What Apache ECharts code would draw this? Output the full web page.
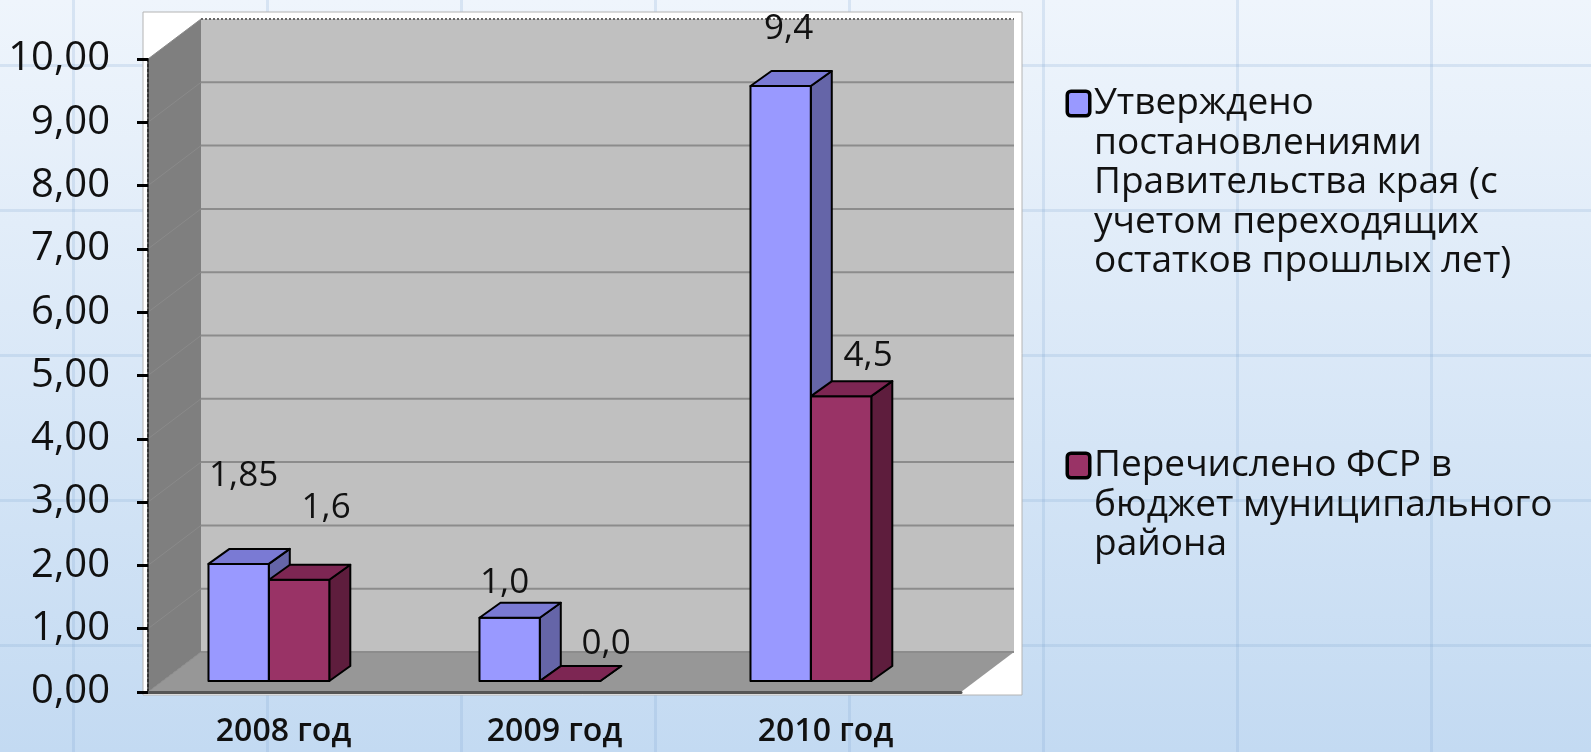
<!DOCTYPE html>
<html>
<head>
<meta charset="utf-8">
<title>Финансирование</title>
<script src="https://cdn.jsdelivr.net/npm/echarts@6/dist/echarts.min.js"></script>
<style>
  html, body { margin: 0; padding: 0; }
  body {
    width: 1591px;
    height: 752px;
    overflow: hidden;
    background-color: #d9e8f8;
    background-image:
      linear-gradient(to right, rgba(120, 160, 205, 0.2) 3px, transparent 3px),
      linear-gradient(to bottom, rgba(120, 160, 205, 0.2) 3px, transparent 3px),
      linear-gradient(to bottom, #eff5fc, #c3daf2);
    background-size: 194px 100%, 100% 145px, 100% 100%;
    background-position: 72px 0, 0 64px, 0 0;
  }
  #chart { width: 1591px; height: 752px; }
</style>
</head>
<body>
<div id="chart"></div>
<script>
// данные диаграммы
const categories = ['2008 год', '2009 год', '2010 год'];
const seriesNames = [
  'Утверждено\nпостановлениями\nПравительства края (с\nучетом переходящих\nостатков прошлых лет)',
  'Перечислено ФСР в\nбюджет муниципального\nрайона',
];
const approved = [1.85, 1.0, 9.4];
const transferred = [1.6, 0.0, 4.5];
const yTicks = [0, 1, 2, 3, 4, 5, 6, 7, 8, 9, 10];

// псевдо-3D: глубина стен и столбиков
const WALL_DEPTH = [53, -40];
const BAR_DEPTH = [21, -15];
const BAR_LIFT = -11;

// сдвиг подписей от верхней грани (в оригинале подписи двигали вручную)
const approvedLabelNudge = [[5, -88], [-5, -35], [8, -57]];
const transferredLabelNudge = [[27, -72], [36, -37], [27, -40]];

const FONT = 'Open Sans';

const fmtValue = (v) => {
  const s = Number.isInteger(Math.round(v * 100) / 10) ? v.toFixed(1) : v.toFixed(2);
  return s.replace('.', ',');
};

// стены, пол и линии сетки на задней стенке
const renderWalls = (params, api) => {
  const cs = params.coordSys;
  const [dx, dy] = WALL_DEPTH;
  const L = cs.x, T = cs.y, R = cs.x + cs.width, B = cs.y + cs.height;
  const children = [
    { type: 'rect', shape: { x: L - 5, y: T - 47, width: R - L + 66, height: B - T + 50 },
      style: { fill: '#ffffff', stroke: '#b4b4b4', lineWidth: 1 } },
    { type: 'polygon', shape: { points: [[L, T], [L + dx, T + dy], [L + dx, B + dy], [L, B]] },
      style: { fill: '#7f7f7f' } },
    { type: 'rect', shape: { x: L + dx, y: T + dy, width: R - L, height: B - T },
      style: { fill: '#c0c0c0' } },
    { type: 'polygon', shape: { points: [[L, B], [R, B], [R + dx, B + dy], [L + dx, B + dy]] },
      style: { fill: '#979797' } },
  ];
  yTicks.forEach((t, i) => {
    const y = api.coord([0, t])[1];
    const last = i === yTicks.length - 1;
    children.push({
      type: 'line',
      shape: { x1: L + dx, y1: y + dy, x2: R + dx, y2: y + dy },
      style: { stroke: last ? '#666' : '#8c8c8c', lineWidth: 2, lineDash: last ? [2, 2] : null },
    });
    children.push({
      type: 'line',
      shape: { x1: L, y1: y, x2: L + dx, y2: y + dy },
      style: { stroke: '#8a8a8a', lineWidth: 1 },
    });
  });
  return { type: 'group', children };
};

// объёмный столбик: перед, верх, бок + подпись
const makeBarRenderer = (slot, colors, nudges) => (params, api) => {
  const idx = api.value(0);
  const val = api.value(1);
  const top = api.coord([idx, val]);
  const base = api.coord([idx, 0]);
  const band = api.size([1, 0])[0];
  const w = band * 0.2225;
  const x0 = top[0] + band * slot;
  const x1 = x0 + w;
  const yt = top[1] + BAR_LIFT;
  const yb = base[1] + BAR_LIFT;
  const [dx, dy] = BAR_DEPTH;
  const nudge = nudges[params.dataIndex];
  const edge = { stroke: '#000', lineWidth: 2, lineJoin: 'round' };
  return {
    type: 'group',
    children: [
      { type: 'polygon', shape: { points: [[x1, yt], [x1 + dx, yt + dy], [x1 + dx, yb + dy], [x1, yb]] },
        style: Object.assign({ fill: colors[2] }, edge) },
      { type: 'rect', shape: { x: x0, y: yt, width: w, height: yb - yt },
        style: Object.assign({ fill: colors[0] }, edge) },
      { type: 'polygon', shape: { points: [[x0, yt], [x0 + dx, yt + dy], [x1 + dx, yt + dy], [x1, yt]] },
        style: Object.assign({ fill: colors[1] }, edge) },
      { type: 'text', x: (x0 + x1) / 2 + nudge[0], y: yt + nudge[1],
        style: { text: fmtValue(val), fontSize: 35, fontFamily: FONT, fill: '#111',
          align: 'center', verticalAlign: 'middle' } },
    ],
  };
};

const legendRich = {
  sq0: { width: 19, height: 21, backgroundColor: '#9999ff', borderColor: '#000', borderWidth: 3.5, borderRadius: 2 },
  sq1: { width: 19, height: 21, backgroundColor: '#993366', borderColor: '#000', borderWidth: 3.5, borderRadius: 2 },
  ind: { width: 19 },
  t: { fontSize: 37, fontFamily: FONT, color: '#111', lineHeight: 39.5, padding: [0, 0, 0, 6] },
};

const chart = echarts.init(document.getElementById('chart'));

const option = {
  animation: false,
  grid: { left: 148, top: 59, width: 813, height: 633 },
  legend: seriesNames.map((name, i) => ({
    data: [name],
    left: 1064,
    top: [85, 447][i],
    padding: 0,
    icon: 'none',
    itemWidth: 0,
    itemHeight: 14,
    selectedMode: false,
    formatter: (n) => n.split('\n')
      .map((line, j) => (j === 0 ? '{sq' + i + '| }' : '{ind| }') + '{t|' + line + '}')
      .join('\n'),
    textStyle: { rich: legendRich },
  })),
  xAxis: {
    type: 'category',
    data: categories,
    z: 4,
    axisLine: { lineStyle: { color: '#555', width: 3 } },
    axisTick: { length: 11, lineStyle: { color: '#000', width: 3 } },
    axisLabel: { fontSize: 32, fontFamily: FONT, fontWeight: 600, color: '#111', margin: 24 },
  },
  yAxis: {
    type: 'value',
    min: yTicks[0],
    max: yTicks[yTicks.length - 1],
    interval: yTicks[1] - yTicks[0],
    z: 4,
    axisLine: { show: true, lineStyle: { color: '#333', width: 2, type: [3, 2] } },
    axisTick: { show: true, length: 11, lineStyle: { color: '#000', width: 3 } },
    splitLine: { show: false },
    axisLabel: {
      fontSize: 40,
      fontFamily: FONT,
      color: '#111',
      margin: 38,
      formatter: (v) => v.toFixed(2).replace('.', ','),
    },
  },
  series: [
    {
      name: 'walls',
      type: 'custom',
      z: 1,
      silent: true,
      clip: false,
      renderItem: renderWalls,
      data: [[0, 0]],
    },
    {
      name: seriesNames[0],
      type: 'custom',
      z: 2,
      clip: false,
      itemStyle: { color: '#9999ff' },
      encode: { x: 0, y: 1 },
      renderItem: makeBarRenderer(-0.2768, ['#9999ff', '#7a7ad4', '#6565a8'], approvedLabelNudge),
      data: approved.map((v, i) => [i, v]),
    },
    {
      name: seriesNames[1],
      type: 'custom',
      z: 3,
      clip: false,
      itemStyle: { color: '#993366' },
      encode: { x: 0, y: 1 },
      renderItem: makeBarRenderer(-0.0535, ['#993366', '#7d2653', '#5e1d3d'], transferredLabelNudge),
      data: transferred.map((v, i) => [i, v]),
    },
  ],
};

option && chart.setOption(option);
</script>
</body>
</html>
